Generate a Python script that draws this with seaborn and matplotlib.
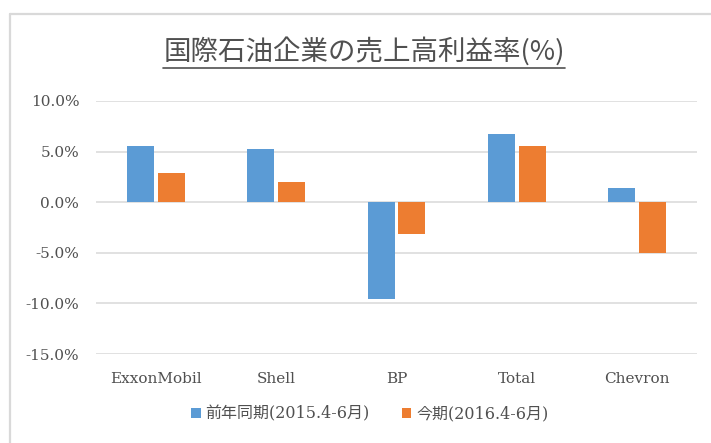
import pandas as pd
import matplotlib
matplotlib.use('Agg')
import matplotlib.pyplot as plt
from matplotlib.lines import Line2D
from matplotlib.ticker import FuncFormatter
import seaborn as sns

# --- Datos ---
empresas = ['ExxonMobil', 'Shell', 'BP', 'Total', 'Chevron']
serie_2015 = [5.6, 5.3, -9.6, 6.7, 1.4]
serie_2016 = [2.9, 2.0, -3.1, 5.6, -5.0]
etiquetas = ['前年同期(2015.4-6月)', '今期(2016.4-6月)']
colores = ['#5B9BD5', '#ED7D31']
titulo = '国際石油企業の売上高利益率(%)'

df = pd.DataFrame({
    'empresa': empresas * 2,
    'valor': serie_2015 + serie_2016,
    'periodo': [etiquetas[0]] * len(empresas) + [etiquetas[1]] * len(empresas),
})

sns.set_style('white')
plt.rcParams['font.family'] = ['DejaVu Serif', 'Noto Sans CJK JP']
gris = '#505050'

fig = plt.figure(figsize=(7.11, 4.43), dpi=100)
ax = fig.add_axes([96 / 711, 1 - 354 / 443, 601 / 711, 253 / 443])

sns.barplot(data=df, x='empresa', y='valor', hue='periodo', order=empresas,
            hue_order=etiquetas, palette=colores, width=0.51, gap=0.12,
            saturation=1, edgecolor='none', ax=ax, legend=True)

ax.set_ylim(-15, 10)
ax.set_yticks([-15, -10, -5, 0, 5, 10])
ax.yaxis.set_major_formatter(FuncFormatter(lambda v, p: f'{v:.1f}%'))
ax.grid(axis='y', color='#D9D9D9', linewidth=1.1)
ax.set_axisbelow(True)
for s in ax.spines.values():
    s.set_visible(False)
ax.set_xlabel('')
ax.set_ylabel('')
ax.tick_params(axis='both', length=0, labelsize=11, colors=gris)
ax.tick_params(axis='y', pad=12)
ax.tick_params(axis='x', pad=13)

# Leyenda abajo
handles, labels = ax.get_legend_handles_labels()
ax.legend_.remove()
fig.legend(handles, labels, loc='center', bbox_to_anchor=(0.52, 1 - 414 / 443),
           ncol=2, frameon=False, handlelength=0.6, handleheight=0.6,
           handletextpad=0.3, columnspacing=2.0,
           prop={'size': 11.5, 'family': ['DejaVu Serif', 'Noto Sans CJK JP']},
           labelcolor=gris)

# Título subrayado
t = fig.text(0.512, 1 - 51 / 443, titulo, ha='center', va='center', fontsize=19.8,
             color=gris, family=['Noto Sans CJK JP', 'DejaVu Serif'])
fig.canvas.draw()
bb = t.get_window_extent()
W, H = fig.bbox.width, fig.bbox.height
fig.add_artist(Line2D([bb.x0 / W, bb.x1 / W], [1 - 68 / 443] * 2,
                      transform=fig.transFigure, color=gris, lw=1.2))

# Marco del gráfico
borde = '#D9D9D9'
fig.add_artist(Line2D([10 / 711, 10 / 711], [0, 1 - 14 / 443],
                      transform=fig.transFigure, color=borde, lw=1.6))
fig.add_artist(Line2D([10 / 711, 1], [1 - 14 / 443] * 2,
                      transform=fig.transFigure, color=borde, lw=1.6))

fig.savefig('out.png', dpi=100)
